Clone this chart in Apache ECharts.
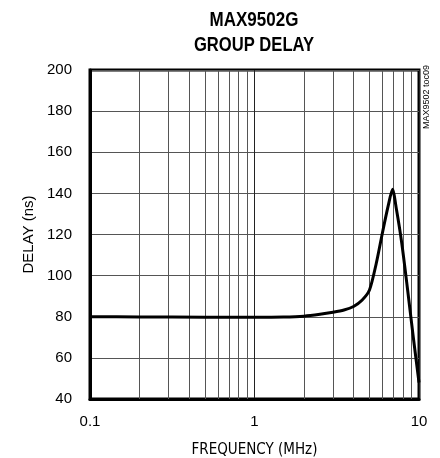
<!DOCTYPE html>
<html>
<head>
<meta charset="utf-8">
<script src="https://cdn.jsdelivr.net/npm/echarts@6/dist/echarts.min.js"></script>
<style>html,body{margin:0;padding:0;background:#fff;}#c{width:440px;height:458px;}</style>
</head>
<body>
<div id="c"></div>
<script>
// Data
const freqMHz = [0.1, 0.2, 0.5, 1, 1.5, 2, 2.5, 3, 3.5, 4, 4.5, 5, 5.5, 6, 6.5, 6.9, 7.3, 7.85, 8.5, 9.2, 10];
const delayNs = [80, 79.9, 79.8, 79.8, 79.9, 80.3, 81.2, 82.2, 83.3, 85, 88, 93, 106, 121, 134, 142, 132, 116, 94, 71, 48];
const minorFreqs = [0.2, 0.3, 0.4, 0.5, 0.6, 0.7, 0.8, 0.9, 2, 3, 4, 5, 6, 7, 8, 9];
const yTicks = [40, 60, 80, 100, 120, 140, 160, 180, 200];
const titleLines = ['MAX9502G', 'GROUP DELAY'];
const xName = 'FREQUENCY (MHz)';
const yName = 'DELAY (ns)';
const tocLabel = 'MAX9502 toc09';

const SANS = "'Liberation Sans', Arial, sans-serif";
const COND = "'DejaVu Sans Condensed', 'Liberation Sans', sans-serif";
const chart = echarts.init(document.getElementById('c'), null, {renderer: 'canvas'});
chart.setOption({
  animation: false,
  backgroundColor: '#fff',
  grid: {left: 90, right: 21, top: 70, bottom: 59, containLabel: false, outerBoundsMode: 'none',
         show: true, borderColor: '#000', borderWidth: 3, backgroundColor: 'transparent'},
  xAxis: {
    type: 'log', logBase: 10, min: 0.1, max: 10,
    name: xName, nameLocation: 'middle', nameGap: 44,
    nameTextStyle: {fontFamily: COND, fontSize: 15, color: '#000'},
    axisLine: {show: true, lineStyle: {color: '#000', width: 3}},
    axisTick: {show: false},
    axisLabel: {fontFamily: SANS, fontSize: 15, fontWeight: 'normal', color: '#000', margin: 15,
      formatter: v => (v < 1 ? v.toFixed(1) : String(Math.round(v)))},
    splitLine: {show: true, lineStyle: {color: '#222', width: 1}}
  },
  yAxis: {
    type: 'value', min: yTicks[0], max: yTicks[yTicks.length - 1], interval: 20,
    name: yName, nameLocation: 'middle', nameGap: 44, nameRotate: 90,
    nameTextStyle: {fontFamily: SANS, fontSize: 15, color: '#000'},
    axisLine: {show: true, lineStyle: {color: '#000', width: 3}},
    axisTick: {show: false},
    axisLabel: {fontFamily: SANS, fontSize: 15, fontWeight: 'normal', color: '#000', margin: 18},
    splitLine: {show: true, lineStyle: {color: '#555', width: 1}}
  },
  graphic: [
    {type: 'text', x: 254, y: 20, scaleX: 0.81,
     style: {text: titleLines[0], fontFamily: SANS, fontWeight: 'bold', fontSize: 21, fill: '#000', textAlign: 'center', textVerticalAlign: 'middle'}},
    {type: 'text', x: 254, y: 45, scaleX: 0.79,
     style: {text: titleLines[1], fontFamily: SANS, fontWeight: 'bold', fontSize: 21, fill: '#000', textAlign: 'center', textVerticalAlign: 'middle'}},
    {type: 'text', x: 427, y: 97, rotation: Math.PI / 2,
     style: {text: tocLabel, fontFamily: SANS, fontSize: 9, fill: '#000', textAlign: 'center', textVerticalAlign: 'middle'}}
  ],
  series: [{
    type: 'line',
    data: freqMHz.map((f, i) => [f, delayNs[i]]),
    smooth: 0.25, showSymbol: false, symbol: 'none',
    lineStyle: {color: '#000', width: 3},
    z: 5,
    markLine: {
      silent: true, symbol: 'none', label: {show: false},
      lineStyle: {color: '#555', width: 1, type: 'solid'},
      data: minorFreqs.map(f => ({xAxis: f}))
    }
  }]
});
</script>
</body>
</html>
